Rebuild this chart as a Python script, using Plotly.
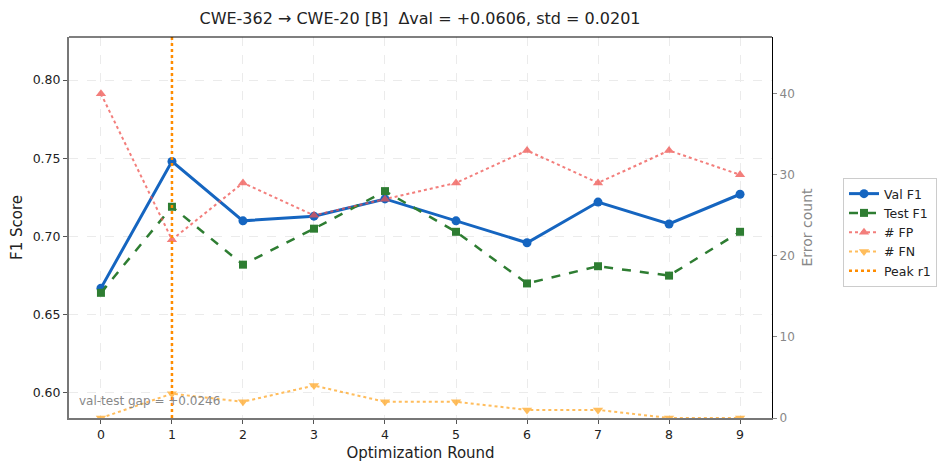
import plotly.graph_objects as go

rounds = [0, 1, 2, 3, 4, 5, 6, 7, 8, 9]
val_f1 = [0.667, 0.748, 0.710, 0.713, 0.724, 0.710, 0.696, 0.722, 0.708, 0.727]
test_f1 = [0.664, 0.719, 0.682, 0.705, 0.729, 0.703, 0.670, 0.681, 0.675, 0.703]
n_fp = [40, 22, 29, 25, 27, 29, 33, 29, 33, 30]
n_fn = [0, 3, 2, 4, 2, 2, 1, 1, 0, 0]
peak_round = 1
title = "CWE-362 → CWE-20 [B]  Δval = +0.0606, std = 0.0201"
gap_text = "val-test gap = +0.0246"

font = "DejaVu Sans, Liberation Sans, sans-serif"

fig = go.Figure()
fig.add_trace(go.Scatter(x=rounds, y=val_f1, name="Val F1", mode="lines+markers",
                         line=dict(color="#1565c0", width=3),
                         marker=dict(symbol="circle", size=9, color="#1565c0")))
fig.add_trace(go.Scatter(x=rounds, y=test_f1, name="Test F1", mode="lines+markers",
                         line=dict(color="#2e7d32", width=2.5, dash="dash"),
                         marker=dict(symbol="square", size=8, color="#2e7d32")))
fig.add_trace(go.Scatter(x=rounds, y=n_fp, name="# FP", mode="lines+markers", yaxis="y2",
                         opacity=0.75,
                         line=dict(color="#ef5350", width=2, dash="dot"),
                         marker=dict(symbol="triangle-up", size=9, color="#ef5350")))
fig.add_trace(go.Scatter(x=rounds, y=n_fn, name="# FN", mode="lines+markers", yaxis="y2",
                         opacity=0.75,
                         line=dict(color="#ffa726", width=2, dash="dot"),
                         marker=dict(symbol="triangle-down", size=9, color="#ffa726")))

# peak marker line
fig.add_shape(type="line", xref="x", yref="paper", x0=peak_round, x1=peak_round, y0=0, y1=1,
              line=dict(color="#ff8c00", width=2.5, dash="dot"),
              showlegend=True, name=f"Peak r{peak_round}", legendrank=2000)

# top spine
fig.add_shape(type="line", xref="paper", yref="paper", x0=0, x1=1, y0=1, y1=1,
              line=dict(color="black", width=1.2))

fig.add_annotation(text=gap_text, xref="paper", yref="paper", x=0.011, y=0.045,
                   xanchor="left", yanchor="middle", showarrow=False,
                   font=dict(size=12, color="#888888", family=font))

fig.update_layout(
    width=931, height=454,
    margin=dict(l=61, r=167, t=29, b=44),
    plot_bgcolor="white", paper_bgcolor="white",
    font=dict(family=font, size=12, color="#222222"),
    title=dict(text=title, x=412 / 931, xanchor="center", y=1 - 10 / 454, yanchor="middle",
               font=dict(size=16, color="#222222")),
    xaxis=dict(title=dict(text="Optimization Round", font=dict(size=15), standoff=6),
               automargin=False,
               range=[-0.45, 9.45], tickvals=rounds, showgrid=True, gridcolor="#ebebeb",
               griddash="dash", gridwidth=1, zeroline=False, showline=True, linecolor="#777777",
               linewidth=2, ticks="outside", ticklen=4, tickcolor="#555555",
               tickfont=dict(size=12.5)),
    yaxis=dict(title=dict(text="F1 Score", font=dict(size=15), standoff=12),
               automargin=False,
               range=[0.584, 0.8275], tickvals=[0.60, 0.65, 0.70, 0.75, 0.80], tickformat=".2f",
               showgrid=True, gridcolor="#ebebeb", griddash="dash", gridwidth=1, zeroline=False,
               showline=True, linecolor="#777777", linewidth=2, ticks="outside", ticklen=4,
               tickcolor="#555555", tickfont=dict(size=12.5)),
    yaxis2=dict(title=dict(text="Error count", font=dict(size=14, color="#888888"), standoff=8),
                automargin=False,
                overlaying="y", side="right", range=[0, 47], tickvals=[0, 10, 20, 30, 40],
                showgrid=False, zeroline=False, showline=True, linecolor="black", linewidth=1.2,
                ticks="outside", ticklen=4, tickcolor="#888888",
                tickfont=dict(size=12, color="#888888")),
    legend=dict(xref="container", yref="container", x=835 / 931, y=1 - 170 / 454,
                xanchor="left", yanchor="top", bgcolor="white",
                bordercolor="#cccccc", borderwidth=1, font=dict(size=12.5),
                tracegroupgap=0, itemwidth=30),
    showlegend=True,
)

fig.write_html("out.html")
